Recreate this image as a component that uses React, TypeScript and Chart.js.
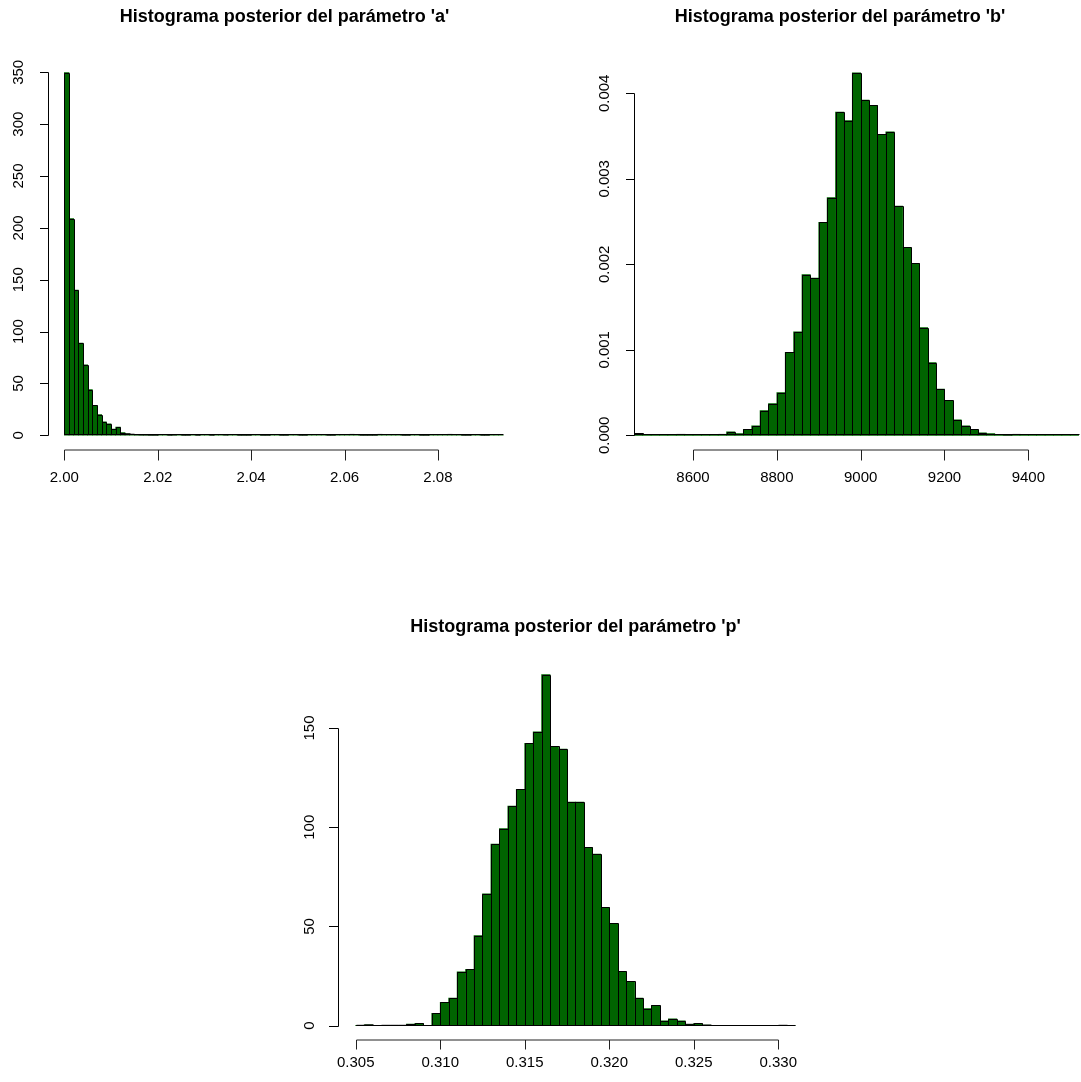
import React, { useEffect, useRef } from "react";
import { Chart, registerables } from "chart.js";

Chart.register(...registerables);

// ---------- Data: parameter 'a' (density, bin width 0.001, from 2.000) ----------
const A_BIN_START = 2.0;
const A_BIN_WIDTH = 0.001;
const A_DENSITY = [
  349.8, 209, 140, 89, 68, 44, 29, 20, 13, 11,
  6, 8, 2.6, 1.4, 1.0, 0.6, 0.4, 0.4, 0.2, 0.2,
  0, 0, 0.2, 0.4, 0, 0.2, 0.2, 0, 0.2, 0,
  0, 0.2, 0, 0, 0.4, 0, 0, 0.2, 0.2, 0.2,
  0, 0, 0.2, 0.2, 0, 0, 0.2, 0.2, 0, 0,
  0.2, 0.2, 0, 0, 0, 0, 0.2, 0.2, 0, 0,
  0, 0.8, 0, 0.2, 0.2, 0.2, 0.2, 0.8, 0, 0,
  0, 0, 0.2, 0.2, 0, 0, 0.2, 0.2, 0, 0,
  0, 0, 0.8, 0, 0, 0.2, 0.2, 0, 0, 0.2,
  0.2, 0, 0, 0,
];
const A_X_TICKS = [2.0, 2.02, 2.04, 2.06, 2.08];
const A_X_LABELS = ["2.00", "2.02", "2.04", "2.06", "2.08"];
const A_Y_TICKS = [0, 50, 100, 150, 200, 250, 300, 350];
const A_Y_LABELS = ["0", "50", "100", "150", "200", "250", "300", "350"];

// ---------- Data: parameter 'b' (density, bin width 20, from 8460) ----------
const B_BIN_START = 8460;
const B_BIN_WIDTH = 20;
const B_DENSITY = [
  0.000023, 0, 0, 0, 0, 0.00001, 0, 0, 0, 0,
  0.00001, 0.00004, 0.00002, 0.00007, 0.00011, 0.00029, 0.00037, 0.0005, 0.00097, 0.00121,
  0.00188, 0.00184, 0.00249, 0.00278, 0.00378, 0.00368, 0.00424, 0.00392, 0.00386, 0.00352,
  0.00355, 0.00268, 0.0022, 0.00201, 0.00126, 0.00085, 0.00054, 0.00041, 0.00018, 0.00011,
  0.00007, 0.00003, 0.00002, 0, 0.000005, 0.00001, 0, 0, 0, 0,
  0, 0, 0,
];
const B_X_TICKS = [8600, 8800, 9000, 9200, 9400];
const B_X_LABELS = ["8600", "8800", "9000", "9200", "9400"];
const B_Y_TICKS = [0, 0.001, 0.002, 0.003, 0.004];
const B_Y_LABELS = ["0.000", "0.001", "0.002", "0.003", "0.004"];

// ---------- Data: parameter 'p' (density, bin width 0.0005, from 0.305) ----------
const P_BIN_START = 0.305;
const P_BIN_WIDTH = 0.0005;
const P_DENSITY = [
  0.2, 0.4, 0, 0.2, 0.2, 0.2, 0.8, 1.2, 0, 6.2,
  11.8, 13.9, 27.2, 28.4, 45.4, 66.5, 91.5, 99.3, 110.7, 119.1,
  142.3, 148, 176.9, 140.8, 139.4, 112.7, 112.7, 89.9, 86.5, 59.6,
  51.6, 27.4, 22.3, 13.9, 8.6, 10.2, 2.5, 3.4, 2.4, 0.7,
  1.2, 0.3, 0, 0, 0, 0, 0, 0, 0, 0,
  0.2, 0,
];
const P_X_TICKS = [0.305, 0.31, 0.315, 0.32, 0.325, 0.33];
const P_X_LABELS = ["0.305", "0.310", "0.315", "0.320", "0.325", "0.330"];
const P_Y_TICKS = [0, 50, 100, 150];
const P_Y_LABELS = ["0", "50", "100", "150"];

const TITLES = [
  "Histograma posterior del parámetro 'a'",
  "Histograma posterior del parámetro 'b'",
  "Histograma posterior del parámetro 'p'",
];

const W = 1081;
const H = 1082;
const FONT = '"Liberation Sans", Arial, Helvetica, sans-serif';

type Panel = {
  values: number[];
  start: number;
  width: number;
  xTicks: number[];
  xLabels: string[];
  yTicks: number[];
  yLabels: string[];
  title: string;
  xMin: number;
  xMax: number;
  yMin: number;
  yMax: number;
  area: { left: number; top: number; right: number; bottom: number };
  titleX: number;
  titleY: number;
  xTickLen: number;
  xLabelOff: number;
  yTickLen: number;
  yLabelOff: number;
};

const rAxesPlugin = {
  id: "rAxes",
  afterDatasetsDraw(chart: any, _args: any, o: any) {
    const ctx = chart.ctx as CanvasRenderingContext2D;
    const xs = chart.scales.x;
    const ys = chart.scales.y;
    const area = chart.chartArea;
    ctx.save();
    ctx.strokeStyle = "#000";
    ctx.fillStyle = "#000";
    ctx.lineWidth = 1;

    // bar outlines (R-style rect borders), from the bar elements' geometry
    const meta = chart.getDatasetMeta(0);
    meta.data.forEach((el: any, i: number) => {
      const v = o.values[i];
      if (!(v > 0)) return;
      const { x, y, base, width } = el.getProps(["x", "y", "base", "width"], true);
      const l = Math.round(x - width / 2) + 0.5;
      const r = Math.round(x + width / 2) + 0.5;
      const b = Math.round(base) - 0.5;
      const h = base - y;
      const t = h >= 1.5 ? Math.round(y) + 0.5 : y;
      ctx.beginPath();
      ctx.rect(l, t, r - l, b - t);
      ctx.stroke();
    });

    // baseline of the histogram (zero-height bins)
    const y0 = Math.round(ys.getPixelForValue(0)) - 0.5;
    ctx.beginPath();
    ctx.moveTo(Math.round(xs.getPixelForValue(o.binStart)) + 0.5, y0);
    ctx.lineTo(Math.round(xs.getPixelForValue(o.binEnd)) + 0.5, y0);
    ctx.stroke();

    // x axis (drawn below the plot like R)
    const ay = Math.round(area.bottom);
    const xt: number[] = o.xTicks;
    ctx.strokeStyle = "#222";
    ctx.beginPath();
    ctx.moveTo(Math.round(xs.getPixelForValue(xt[0])) + 0.5, ay);
    ctx.lineTo(Math.round(xs.getPixelForValue(xt[xt.length - 1])) + 0.5, ay);
    xt.forEach((t) => {
      const px = Math.round(xs.getPixelForValue(t)) + 0.5;
      ctx.moveTo(px, ay);
      ctx.lineTo(px, ay + o.xTickLen);
    });
    ctx.stroke();
    ctx.font = `15px ${FONT}`;
    ctx.textAlign = "center";
    ctx.textBaseline = "middle";
    xt.forEach((t, i) => {
      ctx.fillText(o.xLabels[i], xs.getPixelForValue(t), ay + o.xLabelOff);
    });

    // y axis
    ctx.strokeStyle = "#000";
    const ax = Math.round(area.left) + 0.5;
    const yt: number[] = o.yTicks;
    ctx.beginPath();
    ctx.moveTo(ax, Math.round(ys.getPixelForValue(yt[0])) + 0.5);
    ctx.lineTo(ax, Math.round(ys.getPixelForValue(yt[yt.length - 1])) + 0.5);
    yt.forEach((t) => {
      const py = Math.round(ys.getPixelForValue(t)) + 0.5;
      ctx.moveTo(ax, py);
      ctx.lineTo(ax - o.yTickLen, py);
    });
    ctx.stroke();
    yt.forEach((t, i) => {
      ctx.save();
      ctx.translate(ax - o.yLabelOff, ys.getPixelForValue(t));
      ctx.rotate(-Math.PI / 2);
      ctx.fillText(o.yLabels[i], 0, 0);
      ctx.restore();
    });

    // title
    ctx.font = `bold 18px ${FONT}`;
    ctx.textBaseline = "middle";
    ctx.fillText(o.title, o.titleX, o.titleY);
    ctx.restore();
  },
};

function makeHist(canvas: HTMLCanvasElement, p: Panel) {
  const data = p.values.map((v, i) => ({ x: p.start + (i + 0.5) * p.width, y: v }));
  return new Chart(canvas, {
    type: "bar",
    data: {
      datasets: [
        {
          data: data as any,
          backgroundColor: "#006400",
          borderWidth: 0,
          barPercentage: 1,
          categoryPercentage: 1,
        } as any,
      ],
    },
    options: {
      responsive: false,
      animation: false,
      events: [],
      layout: {
        padding: {
          left: p.area.left,
          top: p.area.top,
          right: W - p.area.right,
          bottom: H - p.area.bottom,
        },
      },
      scales: {
        x: {
          type: "linear",
          min: p.xMin,
          max: p.xMax,
          offset: false,
          display: false,
          afterBuildTicks: (s: any) => {
            s.ticks = p.xTicks.map((v) => ({ value: v }));
          },
        },
        y: {
          type: "linear",
          min: p.yMin,
          max: p.yMax,
          display: false,
        },
      },
      plugins: {
        legend: { display: false },
        tooltip: { enabled: false },
        rAxes: {
          values: p.values,
          binStart: p.start,
          binEnd: p.start + p.values.length * p.width,
          xTicks: p.xTicks,
          xLabels: p.xLabels,
          yTicks: p.yTicks,
          yLabels: p.yLabels,
          title: p.title,
          titleX: p.titleX,
          titleY: p.titleY,
          xTickLen: p.xTickLen,
          xLabelOff: p.xLabelOff,
          yTickLen: p.yTickLen,
          yLabelOff: p.yLabelOff,
        },
      } as any,
    } as any,
    plugins: [rAxesPlugin],
  });
}

const PANEL_A: Panel = {
  values: A_DENSITY,
  start: A_BIN_START,
  width: A_BIN_WIDTH,
  xTicks: A_X_TICKS,
  xLabels: A_X_LABELS,
  yTicks: A_Y_TICKS,
  yLabels: A_Y_LABELS,
  title: TITLES[0],
  xMin: 1.9965,
  xMax: 2.0978,
  yMin: -14,
  yMax: 364,
  area: { left: 48, top: 57.8, right: 521, bottom: 449.8 },
  titleX: 284.5,
  titleY: 17,
  xTickLen: 10.5,
  xLabelOff: 27.5,
  yTickLen: 8.5,
  yLabelOff: 29.5,
};

const PANEL_B: Panel = {
  values: B_DENSITY,
  start: B_BIN_START,
  width: B_BIN_WIDTH,
  xTicks: B_X_TICKS,
  xLabels: B_X_LABELS,
  yTicks: B_Y_TICKS,
  yLabels: B_Y_LABELS,
  title: TITLES[1],
  xMin: 8459.2,
  xMax: 9525.7,
  yMin: -0.000166,
  yMax: 0.004413,
  area: { left: 634, top: 58, right: 1081, bottom: 449.5 },
  titleX: 840,
  titleY: 17,
  xTickLen: 10.5,
  xLabelOff: 27.5,
  yTickLen: 8.5,
  yLabelOff: 30,
};

const PANEL_P: Panel = {
  values: P_DENSITY,
  start: P_BIN_START,
  width: P_BIN_WIDTH,
  xTicks: P_X_TICKS,
  xLabels: P_X_LABELS,
  yTicks: P_Y_TICKS,
  yLabels: P_Y_LABELS,
  title: TITLES[2],
  xMin: 0.30397,
  xMax: 0.33204,
  yMin: -7.08,
  yMax: 184,
  area: { left: 338.3, top: 660.5, right: 812.7, bottom: 1039.75 },
  titleX: 575.5,
  titleY: 627,
  xTickLen: 9.5,
  xLabelOff: 22.5,
  yTickLen: 9.5,
  yLabelOff: 28.5,
};

export default function App() {
  const refA = useRef<HTMLCanvasElement>(null);
  const refB = useRef<HTMLCanvasElement>(null);
  const refP = useRef<HTMLCanvasElement>(null);

  useEffect(() => {
    const charts = [
      makeHist(refA.current as HTMLCanvasElement, PANEL_A),
      makeHist(refB.current as HTMLCanvasElement, PANEL_B),
      makeHist(refP.current as HTMLCanvasElement, PANEL_P),
    ];
    return () => charts.forEach((c) => c.destroy());
  }, []);

  const cs: React.CSSProperties = { position: "absolute", left: 0, top: 0, width: W, height: H };
  return (
    <div style={{ position: "absolute", left: 0, top: 0, width: W, height: H, background: "#fff", overflow: "hidden" }}>
      <canvas ref={refA} width={W} height={H} style={cs} />
      <canvas ref={refB} width={W} height={H} style={cs} />
      <canvas ref={refP} width={W} height={H} style={cs} />
    </div>
  );
}
